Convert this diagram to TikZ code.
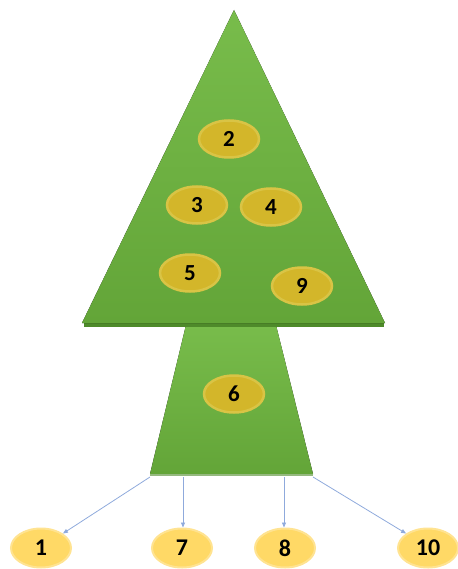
\documentclass[tikz,border=0pt]{standalone}
\usepackage{fontspec}
\setmainfont{Carlito}
\usetikzlibrary{shapes.geometric,arrows.meta}
\definecolor{treetop}{HTML}{78BC4B}
\definecolor{treebot}{HTML}{63A538}
\definecolor{treeshadow}{HTML}{4E8A2A}
\definecolor{olive}{HTML}{D3B62A}
\definecolor{oliverim}{HTML}{D9C445}
\definecolor{gold}{HTML}{FFD966}
\definecolor{goldrim}{HTML}{FFE391}
\definecolor{arrowblue}{HTML}{8FAADC}
\tikzset{
  treepart/.style={top color=treetop, bottom color=treebot, draw=none},
  inner/.style={ellipse, fill=olive, draw=oliverim, line width=2.5pt,
    minimum width=60pt, minimum height=37pt, inner sep=0pt,
    font=\fontsize{23}{23}\selectfont\bfseries, text=black},
  leaf/.style={ellipse, fill=gold, draw=goldrim, line width=2pt,
    minimum width=60pt, minimum height=39pt, inner sep=0pt,
    font=\fontsize{24}{24}\selectfont\bfseries, text=black},
  link/.style={draw=arrowblue, line width=0.8pt, -{Triangle[length=5pt,width=4pt]}}
}
\begin{document}
\begin{tikzpicture}[x=1pt,y=-1pt]
\useasboundingbox (0,0) rectangle (457,569);
% trunk
\fill[treepart] (186,325) -- (276,325) -- (313,474) -- (150,474) -- cycle;
\fill[treeshadow!60] (150,474) rectangle (313,476);
% shadow under crown
\fill[treeshadow] (84,323) rectangle (384,327);
% crown
\fill[treepart] (234,10) -- (385,323) -- (82,323) -- cycle;
\node[inner] (n2) at (229,139) {2};
\node[inner] (n3) at (197,205) {3};
\node[inner] (n4) at (271,207) {4};
\node[inner] (n5) at (190,273) {5};
\node[inner] (n9) at (302,286) {9};
\node[inner] (n6) at (234,394) {6};
\coordinate (c1) at (150,477);
\coordinate (c7) at (183,477);
\coordinate (c8) at (284,477);
\coordinate (c10) at (313,477);
\node[leaf] (n1) at (41,548) {1};
\node[leaf] (n7) at (182,548) {7};
\node[leaf] (n8) at (285,548) {8};
\node[leaf] (n10) at (428,548) {10};
\draw[link] (c1) -- (n1.north east);
\draw[link] (c7) -- (n7.north -| c7);
\draw[link] (c8) -- (n8.north -| c8);
\draw[link] (c10) -- (n10.north west);
\end{tikzpicture}
\end{document}
